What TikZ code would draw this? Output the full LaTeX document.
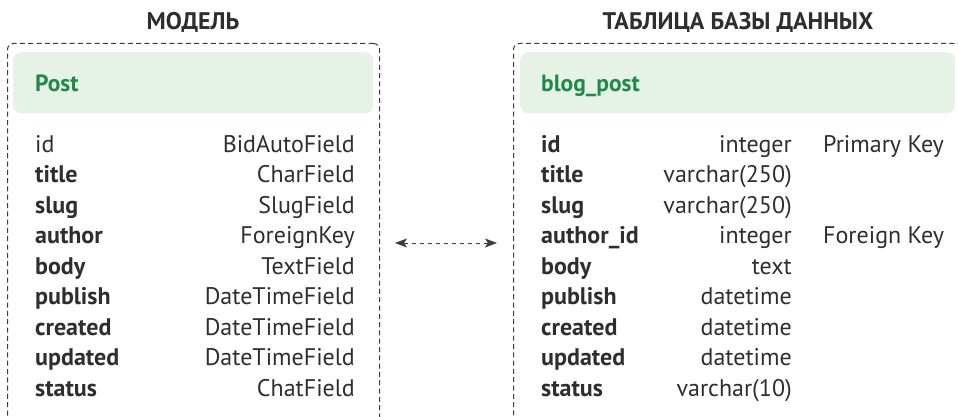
\documentclass[tikz,border=0pt]{standalone}
\usepackage{fontspec}
\setmainfont{PT Sans}
\usetikzlibrary{arrows.meta, positioning}

\definecolor{ink}{HTML}{2E2E2E}
\definecolor{frame}{HTML}{3C3C3C}
\definecolor{headfill}{HTML}{E6F2E6}
\definecolor{headtext}{HTML}{1F8A4C}

\begin{document}
\begin{tikzpicture}[x=1pt, y=-1pt]
		\tikzstyle{Title} = [inner sep=0pt, anchor=base, text=ink, font=\fontsize{24}{28}\selectfont\bfseries]
		\tikzstyle{Frame} = [rectangle, rounded corners=6pt, draw=frame, line width=1pt, dash pattern=on 5pt off 3.3pt, inner sep=0pt]
		\tikzstyle{Head} = [rectangle, rounded corners=8pt, fill=headfill, inner sep=0pt]
		\tikzstyle{HeadText} = [inner sep=0pt, anchor=base west, text=headtext, font=\fontsize{23.5}{28}\selectfont\bfseries]
		\tikzstyle{Name} = [inner sep=0pt, anchor=base west, text=ink, font=\fontsize{24}{28}\selectfont\bfseries]
		\tikzstyle{Type} = [inner sep=0pt, anchor=base east, text=ink, font=\fontsize{24}{28}\selectfont]
		\tikzstyle{Key} = [inner sep=0pt, anchor=base west, text=ink, font=\fontsize{24}{28}\selectfont]
		\tikzstyle{arrow} = [draw=frame, line width=1pt, dash pattern=on 4pt off 4pt, {Stealth[length=12pt, width=9pt, inset=3pt]}-{Stealth[length=12pt, width=9pt, inset=3pt]}]
		
		\useasboundingbox (0,0) rectangle (958,417);
		\clip (0,0) rectangle (958,417);
		
		% titles
		\node (tmodel) [Title] at (193,30) {МОДЕЛЬ};
		\node (ttable) [Title] at (738,30) {ТАБЛИЦА БАЗЫ ДАННЫХ};
		
		% model
		\node (model) [Frame, minimum width=372pt, minimum height=420pt, anchor=north west] at (7,43) {};
		\node (mhead) [Head, minimum width=360pt, minimum height=61pt, anchor=north west] at (13,52) {};
		\node (post) [HeadText] at (35,92) {Post};
		
		\node (m1) [Key] at (35,152) {id};
		\node (m2) [Name] at (35,182.5) {title};
		\node (m3) [Name] at (35,213) {slug};
		\node (m4) [Name] at (35,243.5) {author};
		\node (m5) [Name] at (35,274) {body};
		\node (m6) [Name] at (35,304.5) {publish};
		\node (m7) [Name] at (35,335) {created};
		\node (m8) [Name] at (35,365.5) {updated};
		\node (m9) [Name] at (35,396) {status};
		
		\node (f1) [Type] at (355,152) {BidAutoField};
		\node (f2) [Type] at (355,182.5) {CharField};
		\node (f3) [Type] at (355,213) {SlugField};
		\node (f4) [Type] at (355,243.5) {ForeignKey};
		\node (f5) [Type] at (355,274) {TextField};
		\node (f6) [Type] at (355,304.5) {DateTimeField};
		\node (f7) [Type] at (355,335) {DateTimeField};
		\node (f8) [Type] at (355,365.5) {DateTimeField};
		\node (f9) [Type] at (355,396) {ChatField};
		
		% table
		\node (table) [Frame, minimum width=480pt, minimum height=420pt, anchor=north west] at (513,43) {};
		\node (thead) [Head, minimum width=435pt, minimum height=61pt, anchor=north west] at (520,52) {};
		\node (blogpost) [HeadText] at (541,92) {blog\_post};
		
		\node (t1) [Name] at (541,152) {id};
		\node (t2) [Name] at (541,182.5) {title};
		\node (t3) [Name] at (541,213) {slug};
		\node (t4) [Name] at (541,243.5) {author\_id};
		\node (t5) [Name] at (541,274) {body};
		\node (t6) [Name] at (541,304.5) {publish};
		\node (t7) [Name] at (541,335) {created};
		\node (t8) [Name] at (541,365.5) {updated};
		\node (t9) [Name] at (541,396) {status};
		
		\node (c1) [Type] at (792,152) {integer};
		\node (c2) [Type] at (792,182.5) {varchar(250)};
		\node (c3) [Type] at (792,213) {varchar(250)};
		\node (c4) [Type] at (792,243.5) {integer};
		\node (c5) [Type] at (792,274) {text};
		\node (c6) [Type] at (792,304.5) {datetime};
		\node (c7) [Type] at (792,335) {datetime};
		\node (c8) [Type] at (792,365.5) {datetime};
		\node (c9) [Type] at (792,396) {varchar(10)};
		
		\node (k1) [Key] at (823,152) {Primary Key};
		\node (k4) [Key] at (823,243.5) {Foreign Key};
		
		% link
		\coordinate (la) at (model.east |- 0,243);
		\coordinate (lb) at (table.west |- 0,243);
		\draw [arrow, shorten <=15pt, shorten >=16pt] (la) -- (lb);
\end{tikzpicture}
\end{document}
